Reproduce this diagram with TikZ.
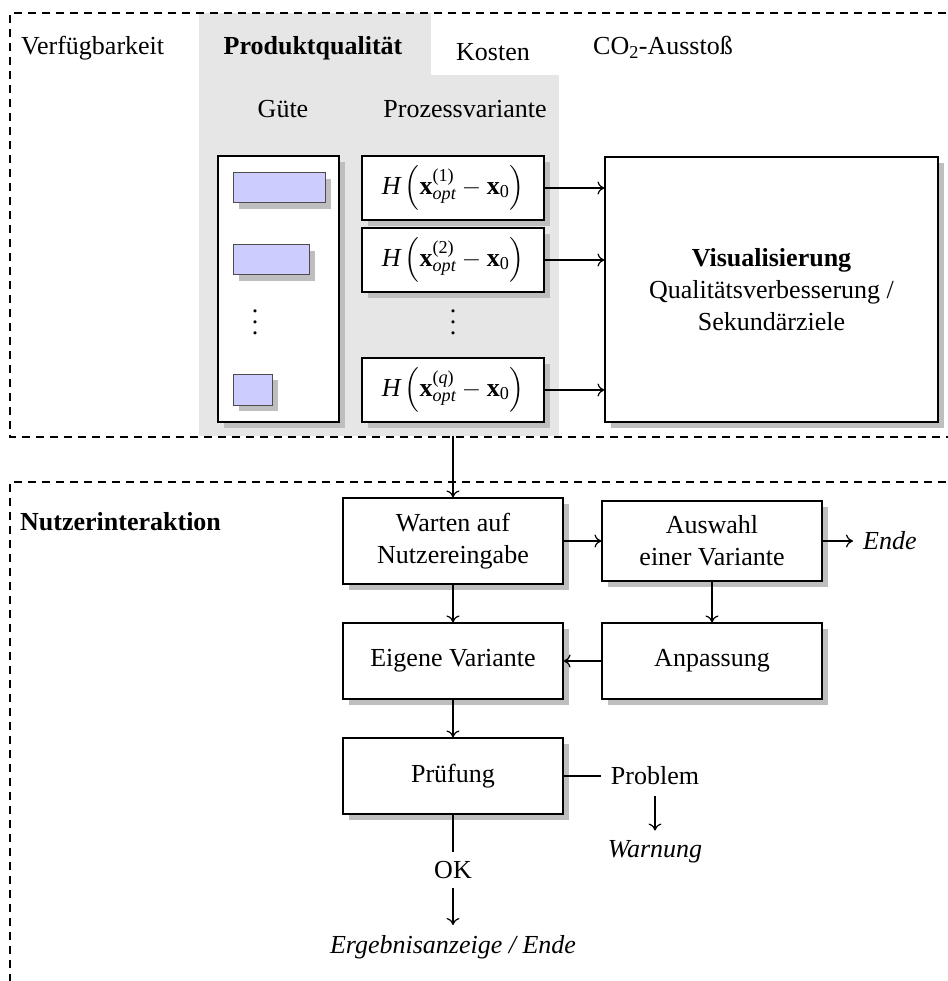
\documentclass[tikz,border=0pt]{standalone}
\usepackage{amsmath}
\usepackage{fontspec}
\setmainfont{Liberation Serif}
\usetikzlibrary{shadows,arrows.meta}
\definecolor{tabgray}{RGB}{230,230,230}
\definecolor{shadowgray}{RGB}{190,190,190}
\definecolor{lav}{RGB}{204,204,255}
% H-expression for one process variant
\newcommand{\hvar}[1]{$\textit{H}\left(\textbf{x}^{\text{(#1)}}_{\textit{opt}}-\textbf{x}_{\text{0}}\right)$}
% vertical dots with wide spacing
\newcommand{\tallvdots}{\vbox{\baselineskip=11pt\lineskiplimit=0pt\hbox{.}\hbox{.}\hbox{.}}}
\tikzset{
  frame/.style={line width=1.8pt, dash pattern=on 8pt off 6pt},
  shbox/.style={draw, fill=white, line width=1.1pt, inner sep=0pt, align=center,
    drop shadow={shadow xshift=6pt, shadow yshift=-6pt, fill=shadowgray, opacity=1}},
  bar/.style={draw=black!70, fill=lav, line width=1pt, inner sep=0pt,
    drop shadow={shadow xshift=6pt, shadow yshift=-6pt, fill=shadowgray, opacity=1}},
  arr/.style={-{To[length=7pt,width=13pt]}, line width=1.2pt},
  ln/.style={line width=1.2pt},
  bigbf/.style={font=\fontsize{26}{32}\selectfont\bfseries},
  bigit/.style={font=\fontsize{26}{32}\selectfont\itshape}
}
\begin{document}
\begin{tikzpicture}[x=1pt, y=-1pt, font=\fontsize{26}{32}\selectfont]
\useasboundingbox (0,0) rectangle (947,981);

% grey tab area of the selected objective
\fill[tabgray] (199,13) rectangle (431,75);
\fill[tabgray] (199,75) rectangle (559,436);

% dashed section frames
\draw[frame] (960,13) -- (10,13) -- (10,437) -- (960,437);
\draw[frame] (960,482) -- (10,482) -- (10,995);

% tabs
\node[anchor=base west, inner sep=0pt] (verf) at (21,55) {Verfügbarkeit};
\node[bigbf, anchor=base, inner sep=0pt] (pq) at (313,55) {Produktqualität};
\node[anchor=base, inner sep=0pt] (kost) at (493,61) {Kosten};
\node[anchor=base, inner sep=0pt] (co2) at (663,55) {CO\textsubscript{2}-Ausstoß};

\node[anchor=base, inner sep=0pt] (guete) at (283,118) {Güte};
\node[anchor=base, inner sep=0pt] (proz) at (465,118) {Prozessvariante};

% quality column
\node[shbox, minimum width=121pt, minimum height=266pt] (gbox) at (278.5,289) {};
\node[bar, minimum width=92pt, minimum height=30pt] (b1) at (279,188) {};
\node[bar, minimum width=76pt, minimum height=30pt] (b2) at (271,260) {};
\node[bar, minimum width=39pt, minimum height=31pt] (b3) at (252.5,389.5) {};
\node[inner sep=0pt] (gdots) at (255,322) {\tallvdots};

% process variants
\node[shbox, minimum width=182pt, minimum height=64pt] (h1) at (453,188) {\hvar{1}};
\node[shbox, minimum width=182pt, minimum height=64pt] (h2) at (453,260) {\hvar{2}};
\node[inner sep=0pt] (hdots) at (453,322) {\tallvdots};
\node[shbox, minimum width=182pt, minimum height=64pt] (hq) at (453,390) {\hvar{\textit{q}}};

\node[shbox, minimum width=333pt, minimum height=265pt] (vis) at (771.5,289.5)
  {\textbf{Visualisierung}\\Qualitätsverbesserung /\\Sekundärziele};

\draw[arr] (h1.east) -- (vis.west |- h1.east);
\draw[arr] (h2.east) -- (vis.west |- h2.east);
\draw[arr] (hq.east) -- (vis.west |- hq.east);

% user interaction
\node[bigbf, anchor=base west, inner sep=0pt] (nutz) at (20,530) {Nutzerinteraktion};

\node[shbox, minimum width=220pt, minimum height=86pt] (wart) at (453,541) {Warten auf\\Nutzereingabe};
\node[shbox, minimum width=220pt, minimum height=80pt] (ausw) at (712,541) {Auswahl\\einer Variante};
\node[shbox, minimum width=220pt, minimum height=76pt] (eig) at (453,661) {Eigene Variante};
\node[shbox, minimum width=220pt, minimum height=76pt] (anp) at (712,661) {Anpassung};
\node[shbox, minimum width=220pt, minimum height=76pt] (pruef) at (453,776) {Prüfung};

\node[bigit, anchor=west, inner sep=0pt] (ende) at (863,541) {Ende};
\node[inner sep=0pt] (prob) at (655,776) {Problem};
\node[bigit, inner sep=0pt] (warn) at (655,852) {Warnung};
\node[inner sep=0pt] (ok) at (453,870) {OK};
\node[bigit, inner sep=0pt] (erg) at (453,947) {Ergebnisanzeige / Ende};

\coordinate (exit) at (453,436);
\draw[arr] (exit) -- (wart.north);
\draw[arr] (wart) -- (ausw);
\draw[arr, shorten >=10pt] (ausw.east) -- (ende.west);
\draw[arr] (ausw) -- (anp);
\draw[arr] (wart) -- (eig);
\draw[arr] (anp) -- (eig);
\draw[arr] (eig) -- (pruef);
\draw[ln, shorten >=10pt] (pruef.east) -- (pruef.east -| prob.west);
\draw[arr, shorten <=11pt, shorten >=10pt] (prob.south) -- (prob.south |- warn.north);
\draw[ln, shorten >=9pt] (pruef.south) -- (ok.north);
\draw[arr, shorten <=9pt, shorten >=10pt] (ok.south) -- (erg.north);
\end{tikzpicture}
\end{document}
